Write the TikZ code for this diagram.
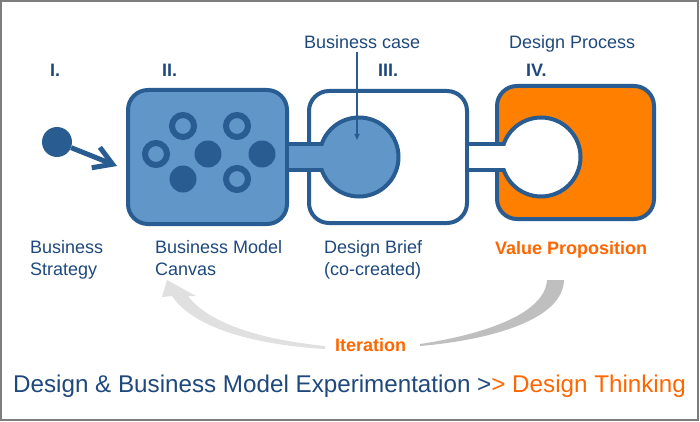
\documentclass[tikz,border=0pt]{standalone}
\usepackage{fontspec}
\setmainfont{Liberation Sans}
\usetikzlibrary{arrows.meta, positioning, calc}
\definecolor{bmblue}{RGB}{41, 92, 145}
\definecolor{bmfill}{RGB}{97, 150, 201}
\definecolor{bmtext}{RGB}{31, 73, 125}
\definecolor{bmorange}{RGB}{255, 128, 0}
\definecolor{bmtextorange}{RGB}{255, 102, 0}
\definecolor{bmframe}{RGB}{125, 125, 125}
\definecolor{iterlight}{RGB}{224, 224, 224}
\definecolor{iterdark}{RGB}{191, 191, 191}

\begin{document}
\begin{tikzpicture}[x=1pt, y=-1pt,
  stagebox/.style={draw=bmblue, line width=4pt, rounded corners=20pt, inner sep=0pt},
  hub/.style={circle, draw=bmblue, line width=4pt, minimum size=79pt, inner sep=0pt},
  solidspot/.style={circle, fill=bmblue, minimum size=27pt, inner sep=0pt},
  ringspot/.style={circle, draw=bmblue, fill=bmfill, line width=6pt, minimum size=22pt, inner sep=0pt},
  tabline/.style={draw=bmblue, line width=4pt},
  caption/.style={anchor=base west, inner sep=0pt, align=left, text=bmtext, font=\fontsize{18}{22}\selectfont},
  numeral/.style={caption, font=\fontsize{18}{22}\selectfont\bfseries}
]
  \useasboundingbox (0,0) rectangle (700,422);
  \fill[white] (0,0) rectangle (700,422);
  \draw[bmframe, line width=2pt] (1,1) rectangle (698,420);

  % the three stage boxes
  \node[stagebox, fill=bmfill, minimum width=159pt, minimum height=134pt] (canvas) at (207.5,157) {};
  \node[stagebox, fill=white, minimum width=158pt, minimum height=132pt] (brief) at (388,157) {};
  \node[stagebox, fill=bmorange, minimum width=157pt, minimum height=133pt] (value) at (575.5,152.5) {};

  \node[hub, fill=bmfill] (briefhub) at (359,157) {};
  \node[hub, fill=white] (valuehub) at (541,157) {};

  % spots on the canvas
  \foreach \p in {(183,126), (237,126), (156,154), (237,179)}
    \node[ringspot] at \p {};
  \foreach \p in {(208,154), (262,154), (183,179)}
    \node[solidspot] at \p {};

  % tabs joining the boxes
  \draw[tabline] (286,144) -- (322,144) (286,170) -- (322,170);
  \fill[bmfill] (289,146) rectangle (325,168);
  \draw[tabline] (466,144) -- (504,144) (466,170) -- (504,170);
  \fill[white] (469,146) rectangle (507,168);

  % business strategy
  \node[circle, fill=bmblue, minimum size=30pt, inner sep=0pt] (strategy) at (57,142) {};
  \coordinate (stratend) at (117,166);
  \draw[bmblue, line width=5pt, -{Straight Barb[length=18pt, width=22pt]}] (strategy) -- (stratend);

  % labels
  \node[numeral] (n1) at (50,77) {I.};
  \node[numeral] (n2) at (162,77) {II.};
  \node[numeral] (n3) at (378,77) {III.};
  \node[numeral] (n4) at (526,77) {IV.};
  \node[caption] (bcase) at (304,49) {Business case};
  \node[caption] (dproc) at (509,49) {Design Process};
  \node[caption] (strattext) at (30,275) {Business\\Strategy};
  \node[caption] (canvastext) at (155,275) {Business Model\\Canvas};
  \node[caption] (brieftext) at (324,275) {Design Brief\\(co-created)};
  \node[caption, text=bmtextorange, font=\fontsize{18}{22}\selectfont\bfseries] (valuetext) at (495,254) {Value Proposition};

  \coordinate (caseend) at (357,140);
  \draw[bmblue, line width=1.5pt, -{Triangle[length=6pt, width=5pt]}] (bcase.south -| caseend) ++(0,3) -- (caseend);

  % iteration
  \fill[iterlight] (325,349) .. controls (260,345) and (195,330) .. (172,296)
    -- (162,297) -- (167,280) -- (196,296) -- (188,296)
    .. controls (210,325) and (265,340) .. (325,346) -- cycle;
  \fill[iterdark] (547,280) -- (564,280) .. controls (563,320) and (490,340) .. (420,346)
    -- (420,344) .. controls (480,335) and (545,315) .. (547,280) -- cycle;
  \node[caption, text=bmtextorange, font=\fontsize{18}{22}\selectfont\bfseries] (iter) at (335,351) {Iteration};

  \node[caption, font=\fontsize{24.2}{28}\selectfont] (title) at (13,392)
    {Design \& Business Model Experimentation >{\color{bmtextorange}> Design Thinking}};
\end{tikzpicture}
\end{document}
